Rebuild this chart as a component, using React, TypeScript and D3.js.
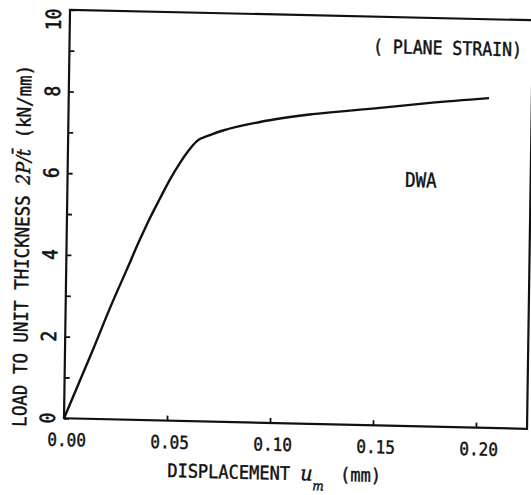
import React, { useEffect, useRef } from 'react';
import * as d3 from 'd3';

// load-displacement curve
const displacement = [0, 0.0137, 0.0215, 0.0293, 0.0356, 0.0403, 0.045, 0.0497, 0.0544, 0.0584, 0.0624, 0.0688, 0.0751, 0.093, 0.1186, 0.1511, 0.1754, 0.204];
const load = [0, 1.71, 2.72, 3.66, 4.42, 4.95, 5.43, 5.9, 6.31, 6.61, 6.85, 7.01, 7.13, 7.36, 7.58, 7.77, 7.92, 8.07];

const xTickValues = [0, 0.05, 0.1, 0.15, 0.2];
const xTickLabels = ['0.00', '0.05', '0.10', '0.15', '0.20'];
const yTickValues = [0, 2, 4, 6, 8, 10];
const yMinorValues = [1, 3, 5, 7, 9];

const width = 531;
const height = 495;

const App = () => {
  const svgRef = useRef<SVGSVGElement>(null);

  useEffect(() => {
    const svg = d3.select(svgRef.current);
    svg.selectAll('*').remove();

    const left = 67, right = 530, top = 15, bottom = 423.5;
    const font = "'DejaVu Sans Mono', monospace";
    const ink = '#111';

    const x = d3.scaleLinear().domain([0, 0.2248]).range([left, right]);
    const y = d3.scaleLinear().domain([0, 10]).range([bottom, top]);

    // the scan is slightly skewed, so everything sits in a sheared group
    const g = svg.append('g')
      .attr('transform', 'translate(298,220) matrix(1,0.0227,-0.0147,1,0,0) translate(-298,-220)');

    // frame
    g.append('rect')
      .attr('x', left)
      .attr('y', top)
      .attr('width', right - left)
      .attr('height', bottom - top)
      .attr('fill', 'none')
      .attr('stroke', ink)
      .attr('stroke-width', 2.2);

    // ticks (inward)
    const xAxis = g.append('g')
      .attr('transform', `translate(0,${bottom})`)
      .call(d3.axisBottom(x).tickValues(xTickValues).tickSizeInner(-5).tickSizeOuter(0).tickFormat(() => ''));
    xAxis.select('.domain').remove();

    const yAxis = g.append('g')
      .attr('transform', `translate(${left},0)`)
      .call(d3.axisLeft(y).tickValues([...yTickValues, ...yMinorValues]).tickSizeInner(-5).tickSizeOuter(0).tickFormat(() => ''));
    yAxis.select('.domain').remove();
    g.selectAll('.tick line').attr('stroke', ink).attr('stroke-width', 1.8);

    // tick labels
    g.selectAll('.xlab')
      .data(xTickValues)
      .enter()
      .append('text')
      .attr('class', 'xlab')
      .attr('transform', d => `translate(${x(d) + 3},445) scale(1,1.12)`)
      .attr('text-anchor', 'middle')
      .attr('dominant-baseline', 'central')
      .attr('font-family', font)
      .attr('font-size', 16)
      .attr('fill', ink)
      .attr('stroke', ink)
      .attr('stroke-width', 0.4)
      .text((d, i) => xTickLabels[i]);

    g.selectAll('.ylab')
      .data(yTickValues)
      .enter()
      .append('text')
      .attr('class', 'ylab')
      .attr('transform', d => `translate(51,${y(d) + (d === 10 ? 10 : 0)}) rotate(-90) scale(1,1.15)`)
      .attr('text-anchor', 'middle')
      .attr('dominant-baseline', 'central')
      .attr('font-family', font)
      .attr('font-size', 18)
      .attr('fill', ink)
      .attr('stroke', ink)
      .attr('stroke-width', 0.5)
      .text(d => d);

    // curve
    const line = d3.line<number>()
      .x((d, i) => x(displacement[i]))
      .y(d => y(d))
      .curve(d3.curveMonotoneX);

    g.append('path')
      .datum(load)
      .attr('d', line)
      .attr('fill', 'none')
      .attr('stroke', ink)
      .attr('stroke-width', 2.4);

    // annotations
    g.append('text')
      .attr('transform', 'translate(370.5,51.3) scale(1,1.15)')
      .attr('font-family', font)
      .attr('font-size', 16.5)
      .attr('fill', ink)
      .attr('stroke', ink)
      .attr('stroke-width', 0.4)
      .text('( PLANE STRAIN)');

    g.append('text')
      .attr('transform', 'translate(404.5,184.3) scale(1,1.15)')
      .attr('font-family', font)
      .attr('font-size', 17.5)
      .attr('fill', ink)
      .attr('stroke', ink)
      .attr('stroke-width', 0.4)
      .text('DWA');

    // x title
    const xt = g.append('text')
      .attr('transform', 'translate(171,480) scale(1,1.1)')
      .attr('font-family', font)
      .attr('font-size', 17)
      .attr('fill', ink)
      .attr('stroke', ink)
      .attr('stroke-width', 0.4);
    xt.append('tspan').text('DISPLACEMENT ');
    xt.append('tspan').attr('font-family', "'DejaVu Serif', serif").attr('font-style', 'italic').attr('font-size', 19).text('u');
    xt.append('tspan').attr('font-family', "'DejaVu Serif', serif").attr('font-style', 'italic').attr('font-size', 12).attr('dy', 9).text('m');
    xt.append('tspan').attr('dy', -9).attr('dx', 6).text(' (mm)');

    // y title
    const yt = g.append('text')
      .attr('transform', 'translate(22,252) rotate(-90) scale(1,1.1)')
      .attr('text-anchor', 'middle')
      .attr('dominant-baseline', 'central')
      .attr('font-family', font)
      .attr('font-size', 17.5)
      .attr('fill', ink)
      .attr('stroke', ink)
      .attr('stroke-width', 0.4);
    yt.append('tspan').text('LOAD TO UNIT THICKNESS ');
    yt.append('tspan').attr('font-family', "'DejaVu Serif', serif").attr('font-style', 'italic').text('2P/t\u0304');
    yt.append('tspan').text(' (kN/mm)');
  }, []);

  return (
    <svg
      ref={svgRef}
      width={width}
      height={height}
      style={{ position: 'absolute', left: 0, top: 0, background: '#fff' }}
    ></svg>
  );
};

export default App;
